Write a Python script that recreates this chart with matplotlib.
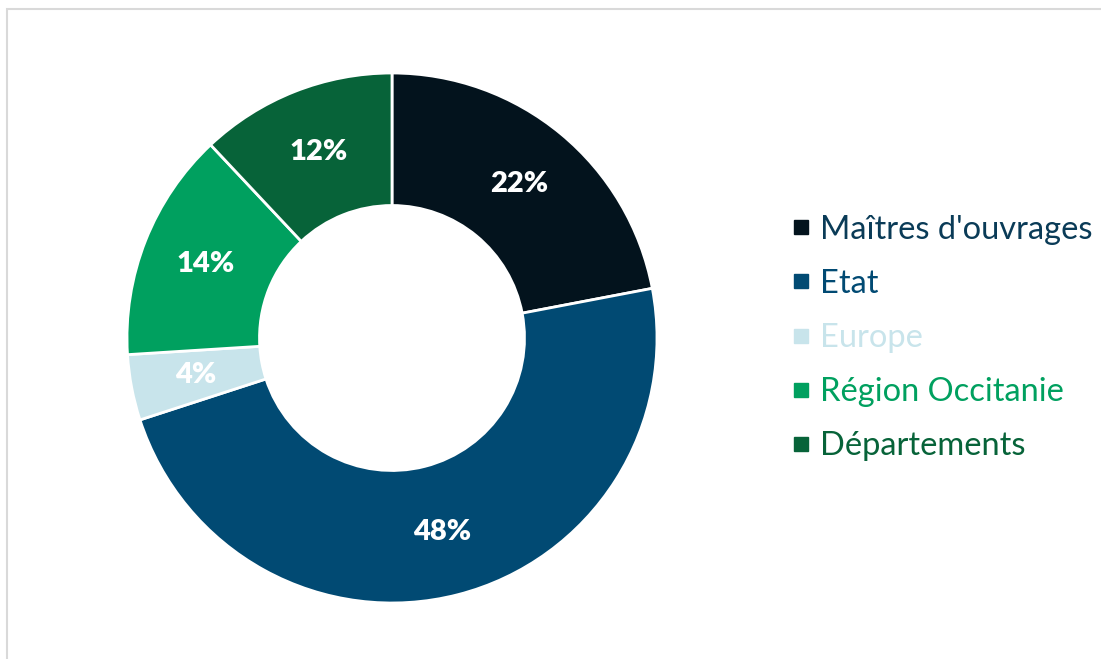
import matplotlib.pyplot as plt
from matplotlib.lines import Line2D
from matplotlib.patches import Rectangle

labels = ["Maîtres d'ouvrages", "Etat", "Europe", "Région Occitanie", "Départements"]
values = [22, 48, 4, 14, 12]
colors = ["#03131d", "#014a73", "#c8e4eb", "#00a05f", "#076339"]

W, H = 1101, 659
fig = plt.figure(figsize=(W / 100, H / 100), dpi=100)

# chart frame (partly cropped)
fig.patches.append(Rectangle((7 / W, -0.1), 1.2, (H - 9) / H + 0.1,
                             transform=fig.transFigure, fill=False,
                             edgecolor="#d9d9d9", linewidth=1.5))

cx, cy, r = 392, H - 338, 265
ax = fig.add_axes([(cx - r) / W, (cy - r) / H, 2 * r / W, 2 * r / H])
wedges, _, autotexts = ax.pie(values, colors=colors, startangle=90, counterclock=False,
                              radius=1, autopct="%d%%", pctdistance=0.755,
                              wedgeprops=dict(width=0.5, edgecolor="white", linewidth=2))
for t in autotexts:
    t.set_color("white")
    t.set_fontsize(21)
    t.set_fontweight("heavy")
    t.set_family("Lato")
ax.set_xlim(-1, 1)
ax.set_ylim(-1, 1)
ax.set_aspect("equal")
ax.axis("off")

handles = [Line2D([], [], marker="s", linestyle="none", markersize=10.5,
                  markerfacecolor=c, markeredgecolor=c) for c in colors]
leg = fig.legend(handles, labels, loc="center left", bbox_to_anchor=(763 / W, (H - 338) / H),
                 frameon=False, prop={"family": "Lato", "size": 23.5},
                 handlelength=0.5, handletextpad=0.35, labelspacing=0.74)
for t, c in zip(leg.get_texts(), colors):
    t.set_color(c)
leg.get_texts()[0].set_color("#0a3b57")
leg.get_texts()[1].set_color("#014a73")

fig.savefig("out.png", dpi=100)
